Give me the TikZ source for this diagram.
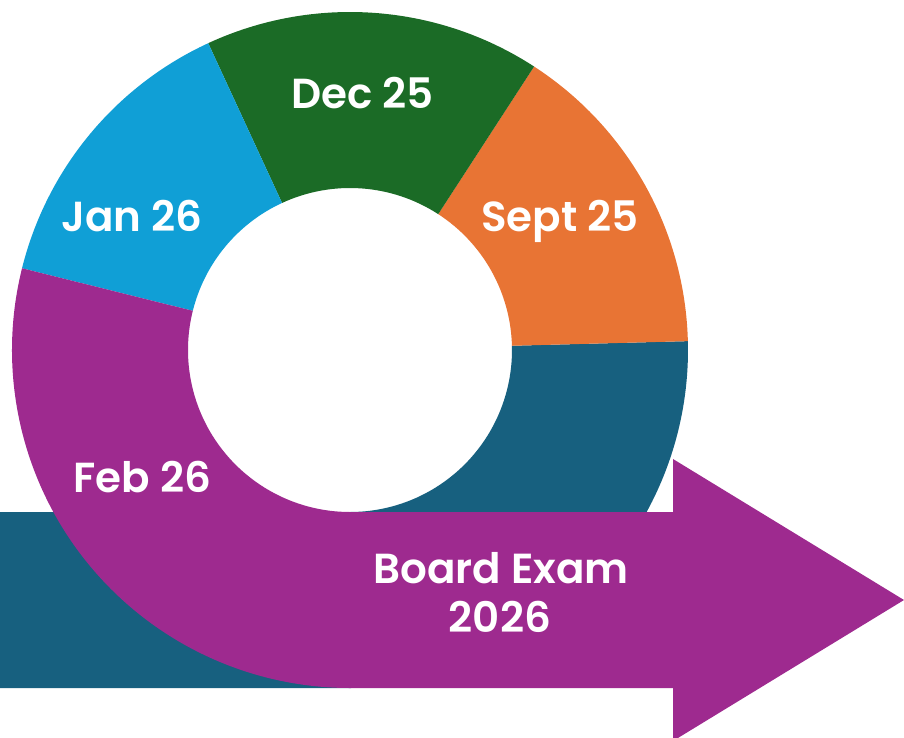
\documentclass[tikz,border=0pt]{standalone}
\usepackage{fontspec}
\setmainfont{Poppins}[BoldFont={Poppins SemiBold}]
\definecolor{ring}{HTML}{17607F}
\definecolor{sept}{HTML}{E87434}
\definecolor{dec}{HTML}{1B6B26}
\definecolor{jan}{HTML}{109FD6}
\definecolor{feb}{HTML}{9E2A8F}
\tikzset{month/.style={text=white, font=\bfseries\fontsize{42}{50}\selectfont, inner sep=0pt, anchor=base}}

\begin{document}
\begin{tikzpicture}[x=1pt,y=1pt]
	\useasboundingbox (-350,-387) rectangle (554,350);

	\fill[ring] (1.5:338) arc[start angle=1.5, end angle=-90, radius=338]
		-- (-350,-338) -- (-350,-162) -- (0,-162)
		arc[start angle=-90, end angle=1.5, radius=162] -- cycle;

	\foreach \a / \b / \c in {1.5/57/sept, 57/114.8/dec, 114.8/166/jan}
	{
		\fill[\c] (\a:338) arc[start angle=\a, end angle=\b, radius=338]
			-- (\b:162) arc[start angle=\b, end angle=\a, radius=162] -- cycle;
	};

	\fill[feb] (166:338) arc[start angle=166, end angle=270, radius=338]
		-- (323,-338) -- (323,-391) -- (554,-250) -- (323,-109) -- (323,-162) -- (0,-162)
		arc[start angle=270, end angle=166, radius=162] -- cycle;

	\node[month] (dec25) at (12.5,241) {Dec 25};
	\node[month] (sept25) at (210,119) {Sept 25};
	\node[month] (jan26) at (-218,119) {Jan 26};
	\node[month] (feb26) at (-207.5,-142) {Feb 26};
	\node[month] (exam) at (151,-233.5) {Board Exam};
	\node[month] (year) at (150,-282) {2026};
\end{tikzpicture}
\end{document}
